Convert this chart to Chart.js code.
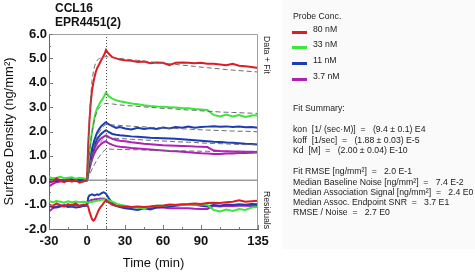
<!DOCTYPE html>
<html>
<head>
<meta charset="utf-8">
<script src="https://cdn.jsdelivr.net/npm/chart.js@4.4.1/dist/chart.umd.min.js"></script>
<style>
  body { margin: 0; background: #fff; font-family: "Liberation Sans", Arial, sans-serif; }
  #wrap { position: relative; width: 475px; height: 272px; overflow: hidden; }
  #grafico { position: absolute; left: 0; top: 0; }
  .titulo { position: absolute; left: 55px; font-weight: bold; font-size: 12px; line-height: 14px; color: #111; }
  #painel { position: absolute; left: 283px; top: 0; width: 192px; height: 249px; background: #fafafa; }
  .txt { position: absolute; left: 293px; font-size: 8.7px; line-height: 10px; color: #222; white-space: pre; }
  .sw { position: absolute; left: 292px; width: 15px; height: 3px; }
</style>
</head>
<body>
<div id="wrap">
  <div id="painel"></div>
  <canvas id="grafico" width="300" height="272"></canvas>
  <div class="titulo" style="top:1px">CCL16</div>
  <div class="titulo" style="top:15px">EPR4451(2)</div>

  <div class="txt" style="top:11px">Probe Conc.</div>
  <div class="sw" style="top:31px;background:#dc1e24"></div>
  <div class="txt" style="top:24px;left:313px">80 nM</div>
  <div class="sw" style="top:46px;background:#3ce63c"></div>
  <div class="txt" style="top:39px;left:313px">33 nM</div>
  <div class="sw" style="top:62px;background:#1c3cb4"></div>
  <div class="txt" style="top:55px;left:313px">11 nM</div>
  <div class="sw" style="top:78px;background:#b020b4"></div>
  <div class="txt" style="top:71px;left:313px">3.7 nM</div>

  <div class="txt" style="top:103px">Fit Summary:</div>
  <div class="txt" style="top:124px">kon  [1/ (sec·M)]  =   (9.4 ± 0.1) E4</div>
  <div class="txt" style="top:135px">koff  [1/sec]  =   (1.88 ± 0.03) E-5</div>
  <div class="txt" style="top:145px">Kd  [M]  =   (2.00 ± 0.04) E-10</div>
  <div class="txt" style="top:166px">Fit RMSE [ng/mm²]  =   2.0 E-1</div>
  <div class="txt" style="top:177px">Median Baseline Noise [ng/mm²]  =   7.4 E-2</div>
  <div class="txt" style="top:187px">Median Association Signal [ng/mm²]  =   2.4 E0</div>
  <div class="txt" style="top:197px">Median Assoc. Endpoint SNR  =   3.7 E1</div>
  <div class="txt" style="top:207px">RMSE / Noise  =   2.7 E0</div>
</div>

<script>
// ---------------------------------------------------------------------------
// Dados (tempo em min, densidade em ng/mm²)
// ---------------------------------------------------------------------------
const tempo = [-30,-27,-24,-21,-18,-15,-12,-9,-6,-3,0,
  1,2,3,4,5,6,7,8,9,10,11,12,13,14,15,
  17,20,23,26,30,35,40,45,50,55,60,65,70,75,80,85,90,95,100,105,110,115,120,125,130,135];

const xTicks = [-30, 0, 30, 60, 90, 135];
const fimAssociacao = 15;

const dados80 = [0.05,-0.05,0.08,-0.02,-0.08,0.02,-0.06,0.0,-0.1,-0.05,0.0,
  1.5,2.5,3.2,3.7,4.0,4.25,4.45,4.6,4.7,4.8,4.9,5.0,5.1,5.2,5.35,
  5.2,5.05,5.0,4.95,4.92,4.9,4.85,4.87,4.8,4.83,4.82,4.72,4.82,4.83,4.82,4.8,4.82,4.78,4.78,4.75,4.72,4.78,4.7,4.68,4.65,4.6];
const dados33 = [0.12,0.08,0.1,0.14,0.08,0.1,0.12,0.06,0.1,0.08,0.05,
  0.7,1.2,1.6,2.0,2.3,2.6,2.8,2.95,3.05,3.15,3.25,3.3,3.4,3.5,3.6,
  3.45,3.35,3.28,3.24,3.2,3.15,3.12,3.08,3.05,3.03,3.02,3.0,2.98,2.96,2.95,2.92,2.9,2.88,2.68,2.62,2.7,2.62,2.68,2.6,2.66,2.67];
const dados11a = [0.02,-0.03,0.05,0.0,-0.04,0.03,0.06,-0.02,0.04,0.0,0.02,
  0.4,0.75,1.05,1.3,1.5,1.68,1.82,1.95,2.05,2.13,2.2,2.26,2.3,2.35,2.38,
  2.3,2.22,2.15,2.18,2.12,2.08,2.15,2.1,2.14,2.1,2.16,2.12,2.18,2.15,2.2,2.15,2.18,2.2,2.22,2.2,2.21,2.18,2.2,2.17,2.18,2.15];
const dados11b = [-0.05,0.0,-0.03,0.02,-0.06,-0.02,0.0,-0.04,-0.02,0.01,0.0,
  0.35,0.65,0.9,1.12,1.3,1.45,1.58,1.68,1.76,1.83,1.89,1.94,1.98,2.02,2.05,
  1.98,1.9,1.87,1.85,1.83,1.8,1.78,1.76,1.74,1.73,1.72,1.71,1.7,1.68,1.66,1.64,1.62,1.6,1.58,1.57,1.55,1.54,1.52,1.5,1.49,1.47];
const dados37a = [-0.25,-0.15,-0.08,-0.05,-0.02,0.0,-0.03,0.02,-0.01,0.0,0.0,
  0.3,0.55,0.78,0.98,1.15,1.3,1.42,1.52,1.6,1.66,1.71,1.75,1.78,1.81,1.84,
  1.78,1.7,1.65,1.62,1.6,1.56,1.53,1.5,1.48,1.46,1.44,1.43,1.42,1.41,1.4,1.38,1.37,1.36,1.22,1.2,1.19,1.18,1.18,1.17,1.17,1.16];
const dados37b = [-0.1,-0.05,0.0,-0.03,0.02,-0.02,0.0,0.03,-0.02,0.0,0.0,
  0.25,0.48,0.68,0.85,1.0,1.12,1.22,1.3,1.37,1.43,1.48,1.52,1.55,1.58,1.6,
  1.52,1.45,1.4,1.37,1.35,1.32,1.3,1.28,1.26,1.24,1.22,1.2,1.19,1.17,1.15,1.13,1.11,1.1,1.08,1.08,1.1,1.1,1.12,1.12,1.13,1.14];

// curvas de ajuste (tracejadas), só a partir de t = 0
const ajuste80 = [null,null,null,null,null,null,null,null,null,null,0,
  1.6,2.7,3.5,4.1,4.45,4.68,4.83,4.92,4.97,5.0,5.02,5.04,5.05,5.06,5.07,
  5.06,5.04,5.02,5.0,4.97,4.94,4.92,4.89,4.86,4.83,4.8,4.78,4.75,4.72,4.7,4.67,4.64,4.62,4.59,4.57,4.54,4.52,4.5,4.48,4.46,4.44];
const ajuste33 = [null,null,null,null,null,null,null,null,null,null,0,
  0.6,1.15,1.6,1.95,2.25,2.5,2.68,2.82,2.92,3.0,3.05,3.09,3.12,3.14,3.15,
  3.14,3.13,3.11,3.09,3.07,3.05,3.03,3.01,2.99,2.97,2.95,2.94,2.92,2.9,2.88,2.87,2.85,2.83,2.82,2.8,2.79,2.78,2.77,2.76,2.75,2.74];
const ajuste11a = [null,null,null,null,null,null,null,null,null,null,0,
  0.3,0.58,0.85,1.08,1.3,1.48,1.64,1.78,1.9,2.0,2.08,2.15,2.21,2.25,2.29,
  2.28,2.27,2.26,2.25,2.23,2.22,2.2,2.19,2.17,2.16,2.15,2.13,2.12,2.11,2.1,2.08,2.07,2.06,2.05,2.04,2.03,2.02,2.01,2.01,2.0,1.99];
const ajuste11b = [null,null,null,null,null,null,null,null,null,null,0,
  0.22,0.43,0.62,0.8,0.96,1.1,1.23,1.34,1.44,1.52,1.59,1.64,1.69,1.72,1.75,
  1.74,1.73,1.72,1.71,1.7,1.68,1.67,1.65,1.64,1.62,1.61,1.6,1.58,1.57,1.56,1.55,1.53,1.52,1.51,1.5,1.49,1.48,1.47,1.46,1.46,1.45];
const ajuste37 = [null,null,null,null,null,null,null,null,null,null,0,
  0.12,0.24,0.35,0.46,0.56,0.66,0.75,0.84,0.92,0.99,1.06,1.12,1.18,1.24,1.28,
  1.28,1.27,1.27,1.26,1.26,1.25,1.25,1.24,1.23,1.23,1.22,1.22,1.21,1.21,1.2,1.2,1.19,1.19,1.18,1.18,1.17,1.17,1.16,1.16,1.15,1.15];

// resíduos (desenhados deslocados em torno de -1)
const residuo80 = [-1.0,-1.05,-0.95,-1.02,-1.08,-0.98,-1.03,-0.95,-1.05,-1.0,-1.0,
  -1.1,-1.3,-1.45,-1.6,-1.66,-1.62,-1.5,-1.38,-1.25,-1.15,-1.08,-1.02,-0.95,-0.88,-0.82,
  -0.9,-1.0,-1.05,-1.08,-1.08,-1.1,-1.08,-1.1,-1.08,-1.05,-1.05,-1.0,-1.02,-0.98,-0.97,-0.95,-0.97,-0.93,-0.92,-0.93,-0.9,-0.88,-0.82,-0.88,-0.86,-0.84];
const residuo33 = [-0.85,-0.9,-0.85,-0.88,-0.92,-0.86,-0.9,-0.87,-0.9,-0.88,-0.9,
  -0.92,-0.9,-0.88,-0.9,-0.87,-0.86,-0.85,-0.84,-0.82,-0.83,-0.8,-0.8,-0.79,-0.78,-0.78,
  -0.82,-0.88,-0.95,-1.0,-1.05,-1.1,-1.12,-1.15,-1.08,-1.05,-1.05,-1.02,-1.0,-1.0,-1.02,-1.0,-0.98,-1.0,-1.22,-1.28,-1.2,-1.26,-1.18,-1.22,-1.12,-1.1];
const residuo11 = [-1.05,-1.1,-1.12,-1.08,-1.05,-1.1,-1.08,-1.12,-1.1,-1.06,-1.05,
  -0.7,-0.62,-0.6,-0.58,-0.6,-0.62,-0.6,-0.58,-0.6,-0.58,-0.55,-0.52,-0.5,-0.52,-0.55,
  -0.72,-0.95,-1.05,-1.1,-1.15,-1.18,-1.22,-1.15,-1.2,-1.12,-1.1,-1.08,-1.05,-1.02,-1.0,-1.0,-1.05,-1.08,-1.02,-1.05,-1.0,-1.02,-0.98,-1.0,-0.97,-0.98];
const residuo37 = [-1.28,-1.15,-1.08,-1.05,-1.02,-1.05,-1.0,-1.03,-1.05,-1.0,-1.0,
  -0.9,-0.85,-0.82,-0.8,-0.8,-0.78,-0.78,-0.77,-0.78,-0.76,-0.75,-0.76,-0.75,-0.76,-0.8,
  -0.9,-1.0,-1.05,-1.08,-1.1,-1.12,-1.1,-1.12,-1.15,-1.12,-1.12,-1.15,-1.15,-1.15,-1.15,-1.17,-1.18,-1.18,-1.05,-1.08,-1.05,-1.06,-1.05,-1.05,-1.06,-1.05];

const VERMELHO = "#dc1e24";
const VERDE = "#3ce63c";
const AZUL = "#1c3cb4";
const ROXO = "#b020b4";

function pontos(valores) {
  return tempo.map((t, i) => ({ x: t, y: valores[i] })).filter(p => p.y !== null);
}

function serie(valores, cor, ordem) {
  return { data: pontos(valores), borderColor: cor, borderWidth: 2, pointRadius: 0, tension: 0, order: ordem };
}

function ajuste(valores) {
  return { data: pontos(valores), borderColor: "#6a6a6a", borderWidth: 1, borderDash: [5, 3], pointRadius: 0, tension: 0, order: 0 };
}

// ---------------------------------------------------------------------------
// Linhas extras: zero, fim da associação, moldura, marcas menores, rótulos
// ---------------------------------------------------------------------------
const extras = {
  id: "extras",
  beforeDatasetsDraw(chart) {
    const { ctx, chartArea: a, scales: { y } } = chart;
    ctx.save();
    ctx.strokeStyle = "#9a9a9a";
    ctx.lineWidth = 1.5;
    const y0 = y.getPixelForValue(0);
    ctx.beginPath(); ctx.moveTo(a.left, y0); ctx.lineTo(a.right, y0); ctx.stroke();
    ctx.restore();
  },
  afterDatasetsDraw(chart) {
    const { ctx, chartArea: a, scales: { x, y } } = chart;
    ctx.save();
    // linha pontilhada em t = 15
    const xf = Math.round(x.getPixelForValue(fimAssociacao)) + 0.5;
    ctx.strokeStyle = "#555";
    ctx.lineWidth = 1;
    ctx.setLineDash([1, 2]);
    ctx.beginPath(); ctx.moveTo(xf, a.top); ctx.lineTo(xf, a.bottom); ctx.stroke();
    ctx.setLineDash([]);

    // moldura de cima e da direita
    ctx.strokeStyle = "#a0a0a0";
    ctx.beginPath();
    ctx.moveTo(a.left, a.top + 0.5); ctx.lineTo(a.right - 0.5, a.top + 0.5); ctx.lineTo(a.right - 0.5, a.bottom);
    ctx.stroke();

    // marcas internas nos eixos
    ctx.strokeStyle = "#777";
    ctx.beginPath();
    for (let v = -2; v <= 6; v += 0.5) {
      const py = Math.round(y.getPixelForValue(v)) + 0.5;
      const len = Number.isInteger(v) ? 4 : 2;
      ctx.moveTo(a.left, py); ctx.lineTo(a.left + len, py);
    }
    for (let t = -30; t <= 135; t += 15) {
      const px = Math.round(x.getPixelForValue(t)) + 0.5;
      const len = xTicks.includes(t) ? 4 : 2;
      ctx.moveTo(px, a.bottom); ctx.lineTo(px, a.bottom - len);
    }
    ctx.stroke();

    // rótulos verticais da direita
    ctx.fillStyle = "#222";
    ctx.font = "8.7px 'Liberation Sans', Arial";
    ctx.textAlign = "center";
    ctx.textBaseline = "middle";
    [["Data + Fit", 55], ["Residuals", 210]].forEach(([txt, cy]) => {
      ctx.save();
      ctx.translate(266.5, cy);
      ctx.rotate(Math.PI / 2);
      ctx.fillText(txt, 0, 0);
      ctx.restore();
    });
    ctx.restore();
  }
};

const fonteEixo = { family: "'Liberation Sans', Arial", size: 13, weight: "bold" };

new Chart(document.getElementById("grafico"), {
  type: "line",
  data: {
    datasets: [
      serie(dados80, VERMELHO, 1),
      serie(dados33, VERDE, 2),
      serie(dados11a, AZUL, 3),
      serie(dados11b, AZUL, 4),
      serie(dados37a, ROXO, 5),
      serie(dados37b, ROXO, 6),
      ajuste(ajuste80),
      ajuste(ajuste33),
      ajuste(ajuste11a),
      ajuste(ajuste11b),
      ajuste(ajuste37),
      serie(residuo80, VERMELHO, 1),
      serie(residuo33, VERDE, 2),
      serie(residuo11, AZUL, 3),
      serie(residuo37, ROXO, 5)
    ]
  },
  options: {
    responsive: false,
    animation: false,
    layout: { padding: { top: 34, right: 42, bottom: 0, left: 0 } },
    plugins: { legend: { display: false }, tooltip: { enabled: false } },
    scales: {
      x: {
        type: "linear",
        min: -30,
        max: 135,
        afterBuildTicks: (eixo) => { eixo.ticks = xTicks.map(v => ({ value: v })); },
        afterFit: (eixo) => { eixo.height = 43; },
        grid: { display: false, drawTicks: false },
        border: { display: true, color: "#666", width: 1 },
        ticks: { font: fonteEixo, color: "#111", padding: 5, maxRotation: 0, autoSkip: false },
        title: { display: true, text: "Time (min)", font: { family: "'Liberation Sans', Arial", size: 13 }, color: "#111", padding: { top: 0, bottom: 1 } }
      },
      y: {
        min: -2,
        max: 6,
        afterFit: (eixo) => { eixo.width = 49; },
        grid: { display: false, drawTicks: false },
        border: { display: true, color: "#666", width: 1 },
        ticks: { stepSize: 1, font: fonteEixo, color: "#111", padding: 2, callback: (v) => v.toFixed(1) },
        title: { display: true, text: "Surface Density (ng/mm²)", font: { family: "'Liberation Sans', Arial", size: 13 }, color: "#111", padding: { top: 2, bottom: 0 } }
      }
    }
  },
  plugins: [extras]
});
</script>
</body>
</html>
